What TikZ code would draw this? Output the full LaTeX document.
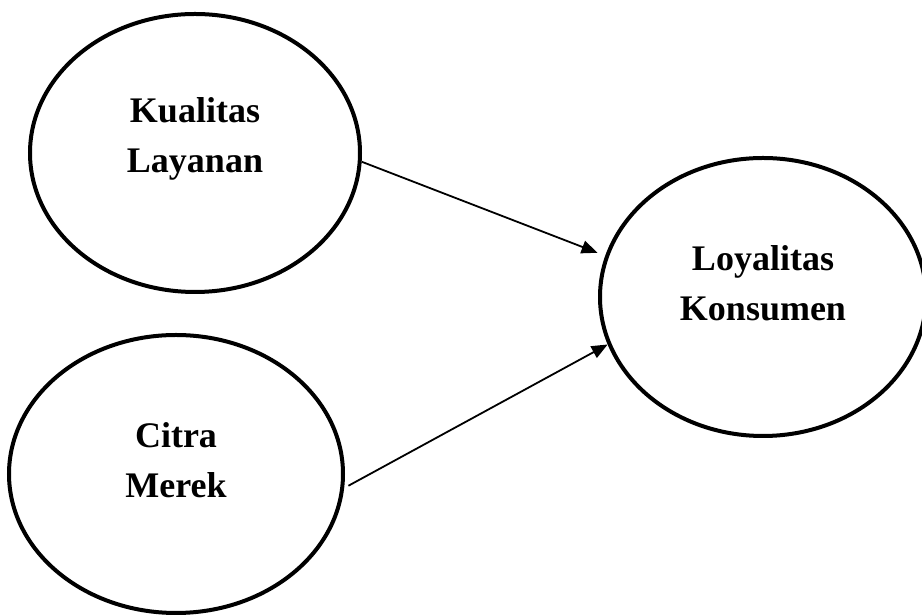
\documentclass[tikz,border=0pt]{standalone}
\usepackage{fontspec}
\setmainfont{Liberation Serif}
\usetikzlibrary{shapes.geometric,arrows.meta}

\tikzset{
  construct/.style={draw=black, line width=4pt, ellipse, inner sep=0pt},
  caption/.style={font=\bfseries\fontsize{36}{50}\selectfont, align=center, inner sep=0pt},
  path arrow/.style={line width=1.8pt, -{Triangle[length=16pt,width=13pt]}}
}

\begin{document}
\begin{tikzpicture}[x=1pt,y=1pt]
  \useasboundingbox (0,0) rectangle (922,615);

  % constructs of the model
  \node[construct, minimum width=330pt, minimum height=278pt] (kl) at (195,462) {};
  \node[construct, minimum width=334pt, minimum height=278pt] (cm) at (176,141) {};
  \node[construct, minimum width=326pt, minimum height=278pt] (lk) at (763,318) {};

  % labels, set slightly above each centre
  \node[caption] (klt) at ([yshift=14pt]kl.center) {Kualitas\\Layanan};
  \node[caption] (cmt) at ([yshift=14pt]cm.center) {Citra\\Merek};
  \node[caption] (lkt) at ([yshift=14pt]lk.center) {Loyalitas\\Konsumen};

  % hypothesised paths
  \draw[path arrow] (kl.-3) -- ([shift={(-8pt,2pt)}]lk.165);
  \draw[path arrow] ([xshift=4pt]cm.-4) -- (lk.197);
\end{tikzpicture}
\end{document}
